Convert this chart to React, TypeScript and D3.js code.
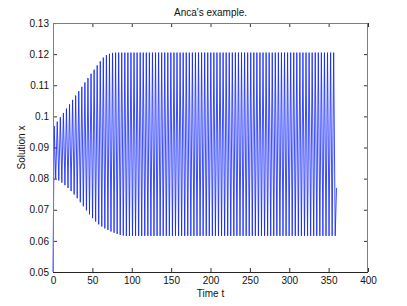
import { useEffect, useRef } from 'react'
import * as d3 from 'd3'

// Solution x(t): starts at 0.05, then oscillates with a growing envelope
const START_POINT: [number, number] = [0, 0.05]
const END_POINT: [number, number] = [360, 0.077]
const FIRST_PEAK_T = 1.5
const PERIOD = 3.9

// maxima, one per cycle
const PEAKS = [
  0.0969, 0.0983, 0.0997, 0.1011, 0.1025, 0.1039, 0.1053, 0.1067, 0.1081, 0.1095,
  0.1109, 0.1123, 0.1137, 0.1150, 0.1164, 0.1177, 0.1189, 0.1197, 0.1201, 0.1204,
  0.1205, 0.1205, 0.1205, 0.1205, 0.1205, 0.1205, 0.1205, 0.1205, 0.1205, 0.1205,
  0.1205, 0.1205, 0.1205, 0.1205, 0.1205, 0.1205, 0.1205, 0.1205, 0.1205, 0.1205,
  0.1205, 0.1205, 0.1205, 0.1205, 0.1205, 0.1205, 0.1205, 0.1205, 0.1205, 0.1205,
  0.1205, 0.1205, 0.1205, 0.1205, 0.1205, 0.1205, 0.1205, 0.1205, 0.1205, 0.1205,
  0.1205, 0.1205, 0.1205, 0.1205, 0.1205, 0.1205, 0.1205, 0.1205, 0.1205, 0.1205,
  0.1205, 0.1205, 0.1205, 0.1205, 0.1205, 0.1205, 0.1205, 0.1205, 0.1205, 0.1205,
  0.1205, 0.1205, 0.1205, 0.1205, 0.1205, 0.1205, 0.1205, 0.1205, 0.1205, 0.1205,
  0.1205, 0.1205,
]

// minima, one per cycle (half a period after each maximum)
const TROUGHS = [
  0.0800, 0.0794, 0.0787, 0.0779, 0.0770, 0.0760, 0.0749, 0.0737, 0.0724, 0.0711,
  0.0698, 0.0685, 0.0673, 0.0662, 0.0653, 0.0646, 0.0640, 0.0635, 0.0630, 0.0626,
  0.0622, 0.0619, 0.0617, 0.0616, 0.0616, 0.0616, 0.0616, 0.0616, 0.0616, 0.0616,
  0.0616, 0.0616, 0.0616, 0.0616, 0.0616, 0.0616, 0.0616, 0.0616, 0.0616, 0.0616,
  0.0616, 0.0616, 0.0616, 0.0616, 0.0616, 0.0616, 0.0616, 0.0616, 0.0616, 0.0616,
  0.0616, 0.0616, 0.0616, 0.0616, 0.0616, 0.0616, 0.0616, 0.0616, 0.0616, 0.0616,
  0.0616, 0.0616, 0.0616, 0.0616, 0.0616, 0.0616, 0.0616, 0.0616, 0.0616, 0.0616,
  0.0616, 0.0616, 0.0616, 0.0616, 0.0616, 0.0616, 0.0616, 0.0616, 0.0616, 0.0616,
  0.0616, 0.0616, 0.0616, 0.0616, 0.0616, 0.0616, 0.0616, 0.0616, 0.0616, 0.0616,
  0.0616, 0.0616,
]

const X_TICKS = [0, 50, 100, 150, 200, 250, 300, 350, 400]
const Y_TICKS = [0.05, 0.06, 0.07, 0.08, 0.09, 0.1, 0.11, 0.12, 0.13]

export default function App() {
  const svgRef = useRef<SVGSVGElement>(null)

  useEffect(() => {
    if (!svgRef.current) return
    const W = 407
    const H = 306
    const margin = { top: 23, right: 39, bottom: 34, left: 53 }
    const iW = W - margin.left - margin.right
    const iH = H - margin.top - margin.bottom
    const font = 'Helvetica, Arial, "Liberation Sans", sans-serif'

    const svg = d3.select(svgRef.current).attr('width', W).attr('height', H)
    svg.selectAll('*').remove()
    svg.append('rect').attr('width', W).attr('height', H).attr('fill', 'white')

    const g = svg.append('g').attr('transform', `translate(${margin.left},${margin.top})`)

    const x = d3.scaleLinear().domain([0, 400]).range([0, iW])
    const y = d3.scaleLinear().domain([0.05, 0.13]).range([iH, 0])

    // build the zigzag series: max then min for each cycle
    const pts: [number, number][] = [START_POINT]
    PEAKS.forEach((p, i) => {
      const t = FIRST_PEAK_T + i * PERIOD
      pts.push([t, p])
      pts.push([t + PERIOD / 2, TROUGHS[i]])
    })
    pts.push(END_POINT)

    const line = d3.line<[number, number]>().x((d) => x(d[0])).y((d) => y(d[1]))
    g.append('path').datum(pts)
      .attr('fill', 'none').attr('stroke', '#0a1fff').attr('stroke-width', 0.8)
      .attr('d', line)

    // axes with inward ticks
    const styleAxis = (ax: d3.Selection<SVGGElement, unknown, null, undefined>) => {
      ax.select('.domain').remove()
      ax.selectAll('line').attr('stroke', '#333')
      ax.selectAll('text').attr('fill', '#111').attr('font-size', 10).attr('font-family', font)
    }
    g.append('g').attr('transform', `translate(0,${iH})`)
      .call(d3.axisBottom(x).tickValues(X_TICKS).tickFormat(d3.format('d')).tickSizeInner(-4).tickSizeOuter(0).tickPadding(5))
      .call(styleAxis)
    g.append('g')
      .call(d3.axisTop(x).tickValues(X_TICKS).tickFormat(() => '').tickSizeInner(-4).tickSizeOuter(0))
      .call(styleAxis)
    g.append('g')
      .call(d3.axisLeft(y).tickValues(Y_TICKS).tickFormat((d) => `${d}`).tickSizeInner(-4).tickSizeOuter(0).tickPadding(4))
      .call(styleAxis)
    g.append('g').attr('transform', `translate(${iW},0)`)
      .call(d3.axisRight(y).tickValues(Y_TICKS).tickFormat(() => '').tickSizeInner(-4).tickSizeOuter(0))
      .call(styleAxis)

    // box
    g.append('path').attr('d', `M0.5,${iH}V0.5H${iW - 0.5}V${iH}`)
      .attr('fill', 'none').attr('stroke', '#7f7f7f').attr('stroke-width', 1)
    g.append('line').attr('x1', 0).attr('x2', iW).attr('y1', iH + 0.5).attr('y2', iH + 0.5)
      .attr('stroke', '#262626').attr('stroke-width', 1)

    // labels
    svg.append('text').attr('x', margin.left + iW / 2).attr('y', 16)
      .attr('text-anchor', 'middle').attr('font-size', 10).attr('font-family', font).attr('fill', '#111')
      .text("Anca's example.")
    svg.append('text').attr('x', margin.left + iW / 2).attr('y', 297)
      .attr('text-anchor', 'middle').attr('font-size', 10).attr('font-family', font).attr('fill', '#111')
      .text('Time t')
    svg.append('text').attr('transform', `translate(25,${margin.top + iH / 2}) rotate(-90)`)
      .attr('text-anchor', 'middle').attr('font-size', 10).attr('font-family', font).attr('fill', '#111')
      .text('Solution x')

    return () => { svg.selectAll('*').remove() }
  }, [])

  return <svg ref={svgRef} style={{ position: 'absolute', left: 0, top: 0 }} />
}
